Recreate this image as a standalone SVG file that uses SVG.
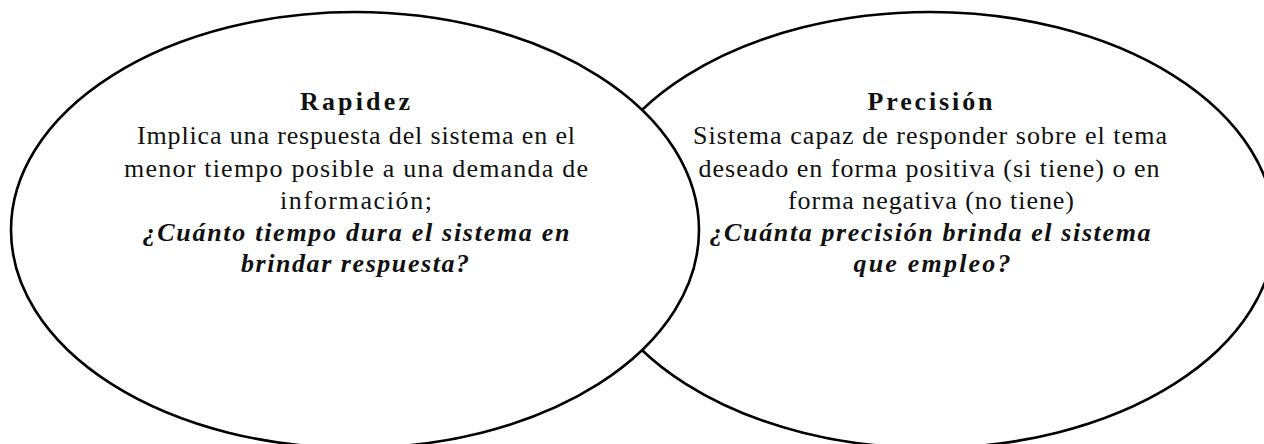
<svg xmlns="http://www.w3.org/2000/svg" width="1264" height="444" viewBox="0 0 1264 444">
<style>
.shape{fill:#ffffff;stroke:#000000;stroke-width:2.6}
.t{font-family:"Liberation Serif","Times New Roman",serif;font-size:26px;fill:#111111;text-anchor:middle}
.title{font-weight:bold}
.q{font-weight:bold;font-style:italic}
</style>
<rect x="0" y="0" width="1264" height="444" fill="#ffffff"/>
<g id="connectors"></g>
<g id="node-precision">
<ellipse class="shape" cx="930" cy="230" rx="345" ry="218"/>
</g>
<g id="node-rapidez">
<ellipse class="shape" cx="355" cy="230" rx="344" ry="218"/>
<text class="t title" x="355" y="110" textLength="110">Rapidez</text>
<text class="t" x="356" y="144" textLength="438">Implica una respuesta del sistema en el</text>
<text class="t" x="356" y="177" textLength="464">menor tiempo posible a una demanda de</text>
<text class="t" x="356" y="209" textLength="152">información;</text>
<text class="t q" x="356" y="241" textLength="427">¿Cuánto tiempo dura el sistema en</text>
<text class="t q" x="355" y="272" textLength="228">brindar respuesta?</text>
</g>
<g id="node-precision-text">
<text class="t title" x="930" y="110" textLength="125">Precisión</text>
<text class="t" x="930" y="144" textLength="474">Sistema capaz de responder sobre el tema</text>
<text class="t" x="929" y="177" textLength="461">deseado en forma positiva (si tiene) o en</text>
<text class="t" x="931" y="209" textLength="286">forma negativa (no tiene)</text>
<text class="t q" x="930" y="241" textLength="441">¿Cuánta precisión brinda el sistema</text>
<text class="t q" x="932" y="272" textLength="157">que empleo?</text>
</g>
</svg>
